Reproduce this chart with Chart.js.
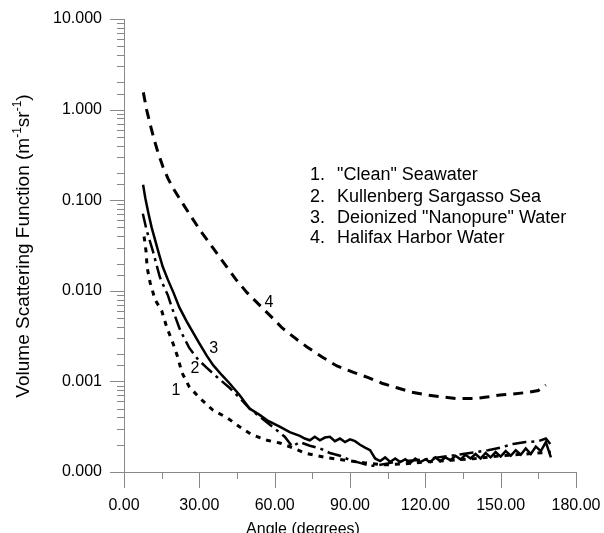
<!DOCTYPE html>
<html>
<head>
<meta charset="utf-8">
<script src="https://cdn.jsdelivr.net/npm/chart.js@4.4.1/dist/chart.umd.min.js"></script>
<style>
  html, body { margin: 0; padding: 0; background: #fff; }
  #wrap { width: 604px; height: 533px; }
</style>
</head>
<body>
<div id="wrap"><canvas id="vsfChart" width="604" height="533"></canvas></div>
<script>
// Curve 1: "Clean" Seawater (short dashes)
const angles1 = [8, 8.8, 9.2, 10.4, 12.4, 15, 17, 19.5, 21.5, 23, 26, 30, 35.5, 41, 46, 51, 57, 62, 67, 72, 80, 88, 96, 104, 112, 120, 130, 140, 150, 160, 170];
const values1 = [0.0398, 0.0269, 0.0182, 0.0123, 0.00794, 0.00603, 0.00398, 0.00263, 0.00182, 0.00126, 0.000871, 0.000661, 0.000479, 0.000398, 0.000316, 0.000257, 0.000224, 0.000209, 0.000186, 0.000162, 0.000145, 0.000135, 0.000126, 0.00012, 0.000123, 0.000129, 0.000135, 0.000141, 0.000151, 0.000158, 0.000166];

// Curve 2: Kullenberg Sargasso Sea (dash-dot)
const angles2 = [7.5, 9, 10.5, 11.6, 13, 14.3, 16, 17.5, 19, 22.3, 26, 29.5, 33, 37, 42, 46, 50, 55, 60, 64, 67, 70, 74, 78, 82, 86, 90, 94, 98, 100, 104, 108, 112, 116, 120, 125, 130, 135, 140, 145, 150, 155, 160, 165, 168, 170];
const values2 = [0.0708, 0.0468, 0.0339, 0.0269, 0.0191, 0.0141, 0.011, 0.00891, 0.0066, 0.00372, 0.00234, 0.00174, 0.00141, 0.00112, 0.000851, 0.000661, 0.000501, 0.000389, 0.000302, 0.000245, 0.000191, 0.000214, 0.000195, 0.000182, 0.000162, 0.000151, 0.000135, 0.000126, 0.000117, 0.000117, 0.000123, 0.000129, 0.000132, 0.000135, 0.000138, 0.000145, 0.000151, 0.000158, 0.000166, 0.000174, 0.000186, 0.000204, 0.000214, 0.000219, 0.000234, 0.0002];

// Curve 3: Deionized "Nanopure" Water (solid)
const angles3 = [7.6, 8.5, 9.7, 11, 12.4, 14, 15.5, 17.5, 19.7, 22, 25, 27.7, 30, 33, 35.5, 39, 42, 46, 50, 54, 57, 62, 66, 70, 72, 74, 76, 78, 80, 82, 84, 86, 88, 90, 92, 94, 96, 98, 100, 102, 104, 106, 108, 110, 112, 114, 116, 118, 120, 122, 124, 126, 128, 130, 132, 134, 136, 138, 140, 142, 144, 146, 148, 150, 152, 154, 156, 158, 160, 162, 164, 166, 168, 170];
const values3 = [0.148, 0.105, 0.0724, 0.0501, 0.0363, 0.0251, 0.0182, 0.0132, 0.00955, 0.0066, 0.00457, 0.00339, 0.00263, 0.00191, 0.00151, 0.00117, 0.000955, 0.000708, 0.000501, 0.000427, 0.000372, 0.000316, 0.000275, 0.000251, 0.000234, 0.000224, 0.000245, 0.000224, 0.00024, 0.000245, 0.000219, 0.000234, 0.000214, 0.000229, 0.000219, 0.0002, 0.000186, 0.000174, 0.000141, 0.000132, 0.000145, 0.000129, 0.000141, 0.000129, 0.000138, 0.000126, 0.000141, 0.000129, 0.000138, 0.000129, 0.000145, 0.000132, 0.000145, 0.000135, 0.000151, 0.000138, 0.000155, 0.000141, 0.000158, 0.000141, 0.000162, 0.000145, 0.000166, 0.000148, 0.00017, 0.000151, 0.000174, 0.000155, 0.000182, 0.000158, 0.000191, 0.00017, 0.000214, 0.000145];

// Curve 4: Halifax Harbor Water (dashes)
const angles4 = [7.7, 9, 10.5, 12, 13.5, 15.5, 17.5, 19.6, 23, 26, 30, 35.5, 41, 45, 49, 55.5, 59.5, 63, 69, 72.9, 78.9, 84.8, 91.4, 97.3, 102.7, 108.7, 114.6, 120.6, 126.6, 132.6, 139.2, 145.2, 149.8, 155, 161, 165, 168];
const values4 = [1.55, 1.0, 0.676, 0.468, 0.339, 0.234, 0.174, 0.135, 0.0955, 0.0708, 0.0479, 0.0295, 0.0182, 0.0129, 0.00955, 0.00631, 0.0049, 0.00389, 0.00288, 0.0024, 0.00186, 0.00148, 0.00126, 0.0011, 0.000955, 0.000851, 0.000759, 0.000708, 0.000676, 0.000646, 0.000646, 0.000676, 0.000708, 0.000724, 0.000759, 0.000794, 0.000912];

// Legend entries and curve number labels
const legendNumbers = ['1.', '2.', '3.', '4.'];
const legendNames = ['"Clean" Seawater', 'Kullenberg Sargasso Sea', 'Deionized "Nanopure" Water', 'Halifax Harbor Water'];
const labelTexts = ['1', '2', '3', '4'];
const labelAngles = [20.7, 28.3, 35.7, 57.7];
const labelValues = [0.0008, 0.00138, 0.00229, 0.0074];

const FONT = '"Liberation Sans", Arial, Helvetica, sans-serif';

function toPoints(xs, ys) {
    return xs.map((x, i) => ({ x: x, y: ys[i] }));
}

function isDecade(v) {
    const e = Math.log10(v);
    return Math.abs(e - Math.round(e)) < 1e-6;
}

// Draws tick marks, axis titles, legend text and curve numbers
const decorPlugin = {
    id: 'decor',
    afterDraw(chart) {
        const ctx = chart.ctx;
        const area = chart.chartArea;
        const xs = chart.scales.x;
        const ys = chart.scales.y;
        ctx.save();

        // tick marks
        ctx.strokeStyle = '#888';
        ctx.lineWidth = 1;
        ys.ticks.forEach(t => {
            const y = Math.round(ys.getPixelForValue(t.value)) + 0.5;
            const len = isDecade(t.value) ? 14 : 7;
            ctx.beginPath();
            ctx.moveTo(area.left - len, y);
            ctx.lineTo(area.left, y);
            ctx.stroke();
        });
        xs.ticks.forEach(t => {
            const x = Math.round(xs.getPixelForValue(t.value)) + 0.5;
            const len = t.value % 30 === 0 ? 16 : 7;
            ctx.beginPath();
            ctx.moveTo(x, area.bottom);
            ctx.lineTo(x, area.bottom + len);
            ctx.stroke();
        });

        ctx.fillStyle = '#000';

        // x axis title
        ctx.font = '16px ' + FONT;
        ctx.textAlign = 'center';
        ctx.textBaseline = 'alphabetic';
        ctx.fillText('Angle (degrees)', 303, 534);

        // y axis title with superscripts
        const parts = [
            { t: 'Volume Scattering Function (m', sup: false },
            { t: '-1', sup: true },
            { t: 'sr', sup: false },
            { t: '-1', sup: true },
            { t: ')', sup: false }
        ];
        const bigFont = '19px ' + FONT;
        const smallFont = '12px ' + FONT;
        let total = 0;
        parts.forEach(p => {
            ctx.font = p.sup ? smallFont : bigFont;
            p.w = ctx.measureText(p.t).width;
            total += p.w;
        });
        ctx.translate(29, 246);
        ctx.rotate(-Math.PI / 2);
        ctx.textAlign = 'left';
        let px = -total / 2;
        parts.forEach(p => {
            ctx.font = p.sup ? smallFont : bigFont;
            ctx.fillText(p.t, px, p.sup ? -8 : 0);
            px += p.w;
        });
        ctx.setTransform(1, 0, 0, 1, 0, 0);

        // legend text block
        ctx.font = '18px ' + FONT;
        ctx.textAlign = 'left';
        const baselines = [180, 202, 223, 243];
        legendNames.forEach((name, i) => {
            ctx.fillText(legendNumbers[i], 310, baselines[i]);
            ctx.fillText(name, 337, baselines[i]);
        });

        // curve numbers placed in data coordinates
        ctx.font = '16px ' + FONT;
        ctx.textAlign = 'center';
        ctx.textBaseline = 'middle';
        labelTexts.forEach((txt, i) => {
            ctx.fillText(txt, xs.getPixelForValue(labelAngles[i]), ys.getPixelForValue(labelValues[i]));
        });

        ctx.restore();
    }
};

document.addEventListener('DOMContentLoaded', function() {
    const ctx = document.getElementById('vsfChart').getContext('2d');
    window.vsfChart = new Chart(ctx, {
        type: 'line',
        data: {
            datasets: [
                {
                    label: '"Clean" Seawater',
                    data: toPoints(angles1, values1),
                    borderColor: '#000',
                    borderWidth: 3,
                    borderDash: [5, 6]
                },
                {
                    label: 'Kullenberg Sargasso Sea',
                    data: toPoints(angles2, values2),
                    borderColor: '#000',
                    borderWidth: 2.5,
                    borderDash: [14, 5, 3, 5]
                },
                {
                    label: 'Deionized "Nanopure" Water',
                    data: toPoints(angles3, values3),
                    borderColor: '#000',
                    borderWidth: 2.5
                },
                {
                    label: 'Halifax Harbor Water',
                    data: toPoints(angles4, values4),
                    borderColor: '#000',
                    borderWidth: 3,
                    borderDash: [10, 7]
                }
            ]
        },
        options: {
            responsive: false,
            animation: false,
            layout: { padding: { top: 19, right: 28, left: 0, bottom: 0 } },
            elements: {
                point: { radius: 0 },
                line: { tension: 0, fill: false }
            },
            plugins: {
                legend: { display: false },
                tooltip: { enabled: false }
            },
            scales: {
                x: {
                    type: 'linear',
                    min: 0,
                    max: 180,
                    grid: { display: false, drawTicks: false },
                    border: { color: '#888', width: 1 },
                    ticks: {
                        stepSize: 15,
                        autoSkip: false,
                        maxRotation: 0,
                        padding: 24,
                        color: '#000',
                        font: { family: FONT, size: 16 },
                        callback: v => (v % 30 === 0 ? v.toFixed(2) : '')
                    },
                    afterFit: s => {
                        s.height = 61;
                        s.paddingLeft = 0;
                        s.paddingRight = 0;
                    }
                },
                y: {
                    type: 'logarithmic',
                    min: 0.0001,
                    max: 10,
                    grid: { display: false, drawTicks: false },
                    border: { color: '#888', width: 1 },
                    ticks: {
                        autoSkip: false,
                        padding: 22,
                        color: '#000',
                        font: { family: FONT, size: 16 },
                        callback: v => (isDecade(v) ? v.toFixed(3) : '')
                    },
                    afterFit: s => {
                        s.width = 124;
                        s.paddingTop = 0;
                        s.paddingBottom = 0;
                    }
                }
            }
        },
        plugins: [decorPlugin]
    });
});
</script>
</body>
</html>
